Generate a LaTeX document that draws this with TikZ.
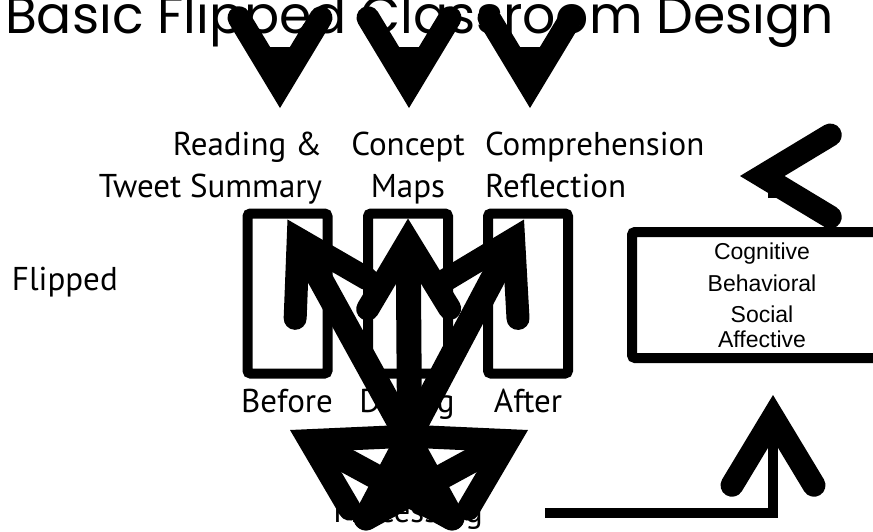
\documentclass[tikz,border=0pt]{standalone}
\usepackage{fontspec}
\setmainfont{PT Sans}
\newfontfamily\titlefont{Poppins}
\newfontfamily\boxfont{Liberation Sans}
\usetikzlibrary{arrows.meta,calc}

\begin{document}
\begin{tikzpicture}[
  x=1pt, y=-1pt,
  font=\fontsize{33}{42}\selectfont,
  lbl/.style={inner sep=0pt, outer sep=0pt},
  phase/.style={draw, line width=10pt, rounded corners=3pt, fill=white, minimum width=80pt, minimum height=160pt, inner sep=0pt, outer sep=0pt},
  dims/.style={draw, line width=10pt, rounded corners=3pt, fill=white, minimum width=260pt, minimum height=126pt, align=center, font=\boxfont\fontsize{23}{25}\selectfont},
  head/.style={-{Straight Barb[length=68pt, width=82pt, line width=23pt, line cap=round, line join=miter]}},
  flow/.style={head, line width=25pt, line cap=round},
  cue/.style={head, line width=22pt},
  link/.style={head, line width=10pt}
]
\useasboundingbox (0,0) rectangle (873,531);
\clip (0,0) rectangle (873,531);

% title and the three cues
\node[lbl, anchor=base east, font=\titlefont\fontsize{52}{60}\selectfont] (title) at (834,33) {Basic Flipped Classroom Design};
\coordinate (cue1s) at (280,47);  \coordinate (cue1) at (280,108);
\coordinate (cue2s) at (409,47);  \coordinate (cue2) at (409,108);
\coordinate (cue3s) at (530,47);  \coordinate (cue3) at (530,108);
\draw[cue] (cue1s) -- (cue1);
\draw[cue] (cue2s) -- (cue2);
\draw[cue] (cue3s) -- (cue3);

% activities
\node[lbl, align=right, anchor=base east] (reading) at (322,197) {Reading \&\\Tweet Summary};
\node[lbl, align=center, anchor=base] (concept) at (408,197) {Concept\\Maps};
\node[lbl, align=left, anchor=base west] (compre) at (485,197) {Comprehension\\Reflection};
\node[lbl, anchor=base west] (flipped) at (12,290) {Flipped};

% phases
\node[phase] (before) at (287.5,293.5) {};
\node[phase] (during) at (408,293.5) {};
\node[phase] (after) at (528,293.5) {};
\node[lbl, anchor=base] (beforelab) at (287,412) {Before};
\node[lbl, anchor=base] (duringlab) at (407,412) {During};
\node[lbl, anchor=base] (afterlab) at (528,412) {After};
\node[lbl, anchor=base] (proc) at (408,522) {Processing};

% processing feeds the phases
\coordinate (p1) at (452,518);
\coordinate (p2) at (410,490);
\coordinate (p3) at (366,518);
\coordinate (q1) at (290,430);
\coordinate (q3) at (528,430);
\draw[flow] (p1) -- ($(before.north)+(0,6)$);
\draw[flow] (p2) -- ($(during.north)+(0,5)$);
\draw[flow] (p3) -- ($(after.north)+(-4,6)$);
\draw[flow] (p1) -- (q1);
\draw[flow] (p3) -- (q3);

% engagement
\node[dims] (engage) at (762,295) {Cognitive\\[7pt]Behavioral\\[6pt]Social\\Affective};
\coordinate (ret) at (773,198);
\coordinate (rettip) at (740,176);
\coordinate (elb) at (545,513);
\coordinate (uptip) at (773,395);
\draw[link] (ret) |- (rettip);
\draw[link] (elb) -| (uptip);
\end{tikzpicture}
\end{document}
